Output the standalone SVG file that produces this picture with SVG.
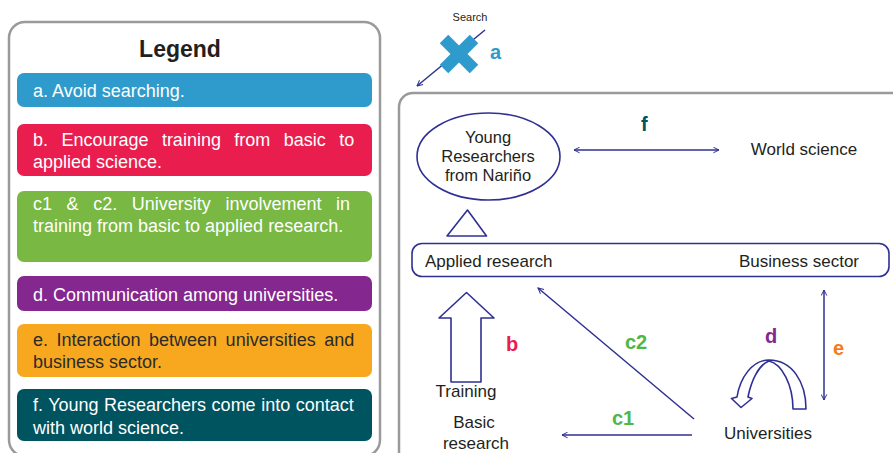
<svg xmlns="http://www.w3.org/2000/svg" width="893" height="453" viewBox="0 0 893 453">
  <style>
    .frame { fill: #ffffff; stroke: #9a9a9a; stroke-width: 2.5; }
    .lg { font-family: "Liberation Sans", Arial, sans-serif; font-size: 18px; fill: #ffffff; }
    .lg-dark { fill: #2b2b2b; }
    .title { font-family: "Liberation Sans", Arial, sans-serif; font-size: 23px; font-weight: bold; fill: #231f20; }
    .lbl { font-family: "Liberation Sans", Arial, sans-serif; font-size: 17px; fill: #231f20; }
    .lbl16 { font-family: "Liberation Sans", Arial, sans-serif; font-size: 16.5px; fill: #231f20; }
    .small { font-family: "Liberation Sans", Arial, sans-serif; font-size: 11px; fill: #231f20; }
    .key { font-family: "Liberation Sans", Arial, sans-serif; font-size: 20px; font-weight: bold; }
    .shape { fill: #ffffff; stroke: #2e3192; stroke-width: 1.6; stroke-linejoin: round; }
    .conn { fill: none; stroke: #2e3192; stroke-width: 1.5; }
  </style>
  <defs>
    <marker id="head" viewBox="0 0 10 10" refX="9" refY="5" markerWidth="7" markerHeight="7" orient="auto-start-reverse" markerUnits="userSpaceOnUse">
      <path d="M1,1 L9,5 L1,9" fill="none" stroke="#2e3192" stroke-width="1.4"/>
    </marker>
  </defs>

  <!-- Legend panel -->
  <g id="legend">
    <rect class="frame" x="9" y="22" width="371" height="434" rx="16"/>
    <text class="title" x="180" y="57" text-anchor="middle">Legend</text>

    <g id="legend-a">
      <rect x="17" y="73" width="355" height="34" rx="7" fill="#2e9bcc"/>
      <text class="lg" x="33" y="97">a. Avoid searching.</text>
    </g>
    <g id="legend-b">
      <rect x="17" y="124" width="355" height="52" rx="7" fill="#e91e4f"/>
      <text class="lg" x="33" y="146" word-spacing="8.4">b. Encourage training from basic to</text>
      <text class="lg" x="33" y="168">applied science.</text>
    </g>
    <g id="legend-c">
      <rect x="17" y="191" width="355" height="71" rx="7" fill="#78b843"/>
      <text class="lg" x="33" y="210" word-spacing="9.6">c1 &amp; c2. University involvement in</text>
      <text class="lg" x="33" y="232">training from basic to applied research.</text>
    </g>
    <g id="legend-d">
      <rect x="17" y="276" width="355" height="35" rx="7" fill="#84288f"/>
      <text class="lg" x="33" y="301">d. Communication among universities.</text>
    </g>
    <g id="legend-e">
      <rect x="17" y="324" width="355" height="53" rx="7" fill="#f7a81e"/>
      <text class="lg lg-dark" x="33" y="346" word-spacing="3.5">e. Interaction between universities and</text>
      <text class="lg lg-dark" x="33" y="368">business sector.</text>
    </g>
    <g id="legend-f">
      <rect x="17" y="389" width="355" height="52" rx="7" fill="#00545f"/>
      <text class="lg" x="33" y="411" word-spacing="0.5">f. Young Researchers come into contact</text>
      <text class="lg" x="33" y="434">with world science.</text>
    </g>
  </g>

  <!-- Model panel -->
  <g id="model-frame">
    <rect class="frame" x="399" y="93" width="520" height="400" rx="14"/>
  </g>

  <g id="connectors">
    <!-- blocked search route -->
    <line class="conn" x1="485" y1="30" x2="417" y2="86" marker-end="url(#head)"/>
    <!-- f: researchers <-> world science -->
    <line class="conn" x1="574" y1="150" x2="719" y2="150" marker-start="url(#head)" marker-end="url(#head)"/>
    <!-- c2: universities -> applied research -->
    <line class="conn" x1="694" y1="419" x2="538" y2="288" marker-end="url(#head)"/>
    <!-- c1: universities -> basic research -->
    <line class="conn" x1="692" y1="435" x2="562" y2="435" marker-end="url(#head)"/>
    <!-- e: universities <-> business sector -->
    <line class="conn" x1="824" y1="290" x2="824" y2="400" marker-start="url(#head)" marker-end="url(#head)"/>
  </g>

  <g id="search">
    <text class="small" x="470" y="21" text-anchor="middle">Search</text>
    <g stroke="#2e9bcc" stroke-width="12">
      <line x1="444" y1="39" x2="474" y2="69"/>
      <line x1="474" y1="39" x2="444" y2="69"/>
    </g>
    <text class="key" x="490" y="59" fill="#2e9bcc">a</text>
  </g>

  <g id="young-researchers">
    <ellipse class="shape" cx="488.5" cy="156.5" rx="71.5" ry="43.5"/>
    <text class="lbl16" x="488" y="143" text-anchor="middle">Young</text>
    <text class="lbl16" x="488" y="162" text-anchor="middle">Researchers</text>
    <text class="lbl16" x="488" y="181" text-anchor="middle">from Nariño</text>
  </g>

  <g id="world-science">
    <text class="lbl" x="804" y="155" text-anchor="middle">World science</text>
  </g>
  <text class="key" x="641" y="131" fill="#00545f">f</text>

  <g id="rise">
    <path class="shape" d="M467.5,210 L486.5,236 L447,236 Z"/>
  </g>

  <g id="applied-research">
    <rect class="shape" x="412" y="243.5" width="477" height="33" rx="10"/>
    <text class="lbl" x="425" y="267">Applied research</text>
    <text class="lbl" x="739" y="267">Business sector</text>
  </g>

  <g id="training">
    <path class="shape" d="M466.5,292.5 L494,318 L481,318 L481,382 L451,382 L451,318 L439,318 Z"/>
    <text class="lbl" x="466" y="397" text-anchor="middle">Training</text>
    <text class="key" x="506" y="351" fill="#e91e4f">b</text>
  </g>

  <g id="basic-research">
    <text class="lbl" x="474" y="428" text-anchor="middle">Basic</text>
    <text class="lbl" x="476" y="449" text-anchor="middle">research</text>
  </g>

  <text class="key" x="625" y="349" fill="#4db848">c2</text>
  <text class="key" x="612" y="425" fill="#4db848">c1</text>

  <g id="universities">
    <text class="lbl" x="768" y="439" text-anchor="middle">Universities</text>
    <!-- d: loop among universities -->
    <path class="shape" d="M806,409 C806,382 792,360 769,360 C752,360 740,378 737,397 L731.5,398.5 L741,407.5 L752,398.5 L748,397 C751,382 758,365 769,361 C782,364 793,385 793,409 Z"/>
    <text class="key" x="765" y="343" fill="#84288f">d</text>
  </g>
  <text class="key" x="833" y="355" fill="#f47b20">e</text>
</svg>
